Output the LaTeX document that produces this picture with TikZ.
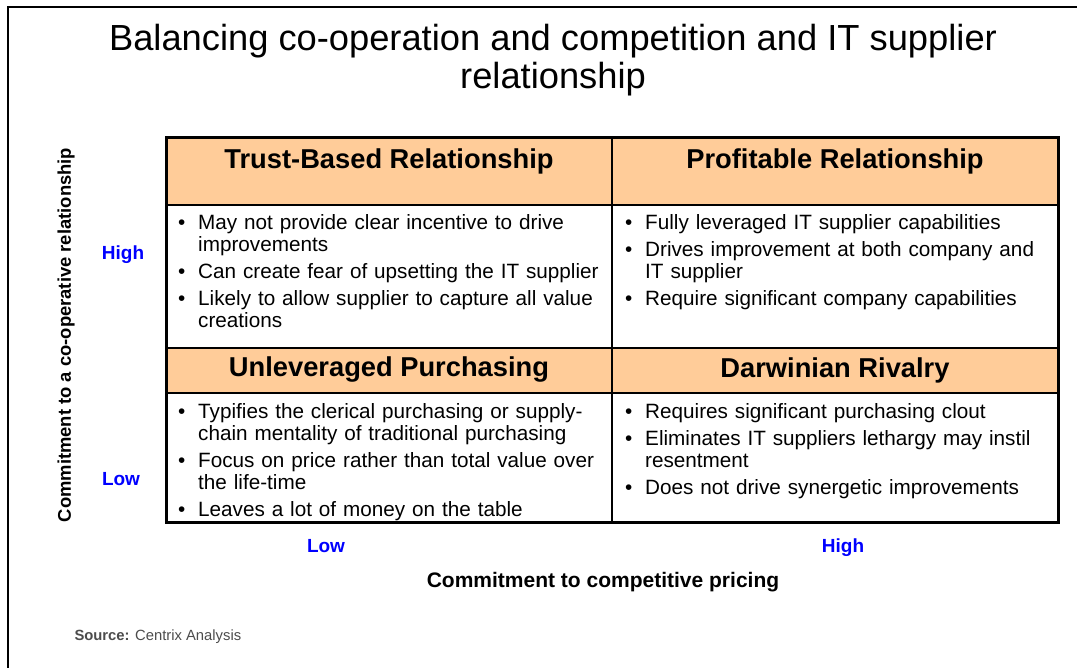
\documentclass[tikz,border=0pt]{standalone}
\usepackage{fontspec}
\setmainfont{Liberation Sans}
\usepackage{enumitem}
\definecolor{peach}{RGB}{255,204,153}
\definecolor{levelblue}{RGB}{0,0,255}
\tikzset{
  {title text/.style} ={align=center, font=\fontsize{36.3}{38}\selectfont},
  {head text/.style} ={font=\bfseries\fontsize{27.3}{30}\selectfont},
  {cell text/.style} ={anchor=north west, inner sep=0pt, text width=430pt,
                 align=left, font=\fontsize{20.7}{22}\selectfont},
  {level text/.style} ={anchor=base, font=\bfseries\fontsize{19}{20}\selectfont, levelblue},
  {axis text/.style} ={font=\bfseries\fontsize{21}{22}\selectfont},
  {side text/.style} ={font=\bfseries\fontsize{18.4}{20}\selectfont},
  {head fill/.style} ={fill=peach},
  {grid line/.style} ={line width=1.5pt},
  {outer line/.style} ={line width=3pt},
}
\newcommand{\cellitems}[1]{%
  \begin{itemize}[label=\textbullet, leftmargin=20pt, labelsep=12pt,
    labelwidth=8pt, align=left, itemsep=5pt, topsep=0pt, parsep=0pt,
    partopsep=0pt]#1\end{itemize}}

\begin{document}
\begin{tikzpicture}[x=1pt,y=-1pt]
\useasboundingbox (0,0) rectangle (1077,668);
\coordinate (fbl) at (8,668);
\coordinate (ftl) at (8,7);
\coordinate (ftr) at (1077,7);
\draw[line width=2pt] (fbl) -- (ftl) -- (ftr);

\node[title text] (title) at (553,60)
  {Balancing co-operation and competition and IT supplier\\relationship};

% grid
\coordinate (nw) at (166,138);
\coordinate (se) at (1058,522);
\coordinate (h1) at (1058,205);
\coordinate (r2) at (166,348);
\coordinate (h2) at (1058,393);
\fill[head fill] (nw) rectangle (h1);
\fill[head fill] (r2) rectangle (h2);
\draw[grid line] (166,205) -- (h1);
\draw[grid line] (r2) -- (1058,348);
\draw[grid line] (166,393) -- (h2);
\draw[grid line] (612,138) -- (612,522);
\draw[outer line] (nw) rectangle (se);

\node[head text] (trust) at (389,161) {Trust-Based Relationship};
\node[head text] (profit) at (835,161) {Profitable Relationship};
\node[head text] (unlev) at (389,370) {Unleveraged Purchasing};
\node[head text] (darwin) at (835,370) {Darwinian Rivalry};

\node[cell text] (trustlist) at (178,207) {\cellitems{
  \item May not provide clear incentive to drive\newline improvements
  \item Can create fear of upsetting the IT supplier
  \item Likely to allow supplier to capture all value\newline creations}};
\node[cell text] (profitlist) at (625,207) {\cellitems{
  \item Fully leveraged IT supplier capabilities
  \item Drives improvement at both company and\newline IT supplier
  \item Require significant company capabilities}};
\node[cell text] (unlevlist) at (178,396) {\cellitems{
  \item Typifies the clerical purchasing or supply-\newline chain mentality of traditional purchasing
  \item Focus on price rather than total value over\newline the life-time
  \item Leaves a lot of money on the table}};
\node[cell text] (darwinlist) at (625,396) {\cellitems{
  \item Requires significant purchasing clout
  \item Eliminates IT suppliers lethargy may instil\newline resentment
  \item Does not drive synergetic improvements}};

\node[level text] (yhigh) at (123,260) {High};
\node[level text] (ylow) at (121,485) {Low};
\node[level text] (xlow) at (326,552) {Low};
\node[level text] (xhigh) at (843,552) {High};

\node[side text, rotate=90] (yaxis) at (66,335) {Commitment to a co-operative relationship};
\node[axis text] (xaxis) at (603,582) {Commitment to competitive pricing};

\node[anchor=west, font=\fontsize{14.8}{16}\selectfont, black!70] (source) at (71,637)
  {\textbf{Source:} Centrix Analysis};
\end{tikzpicture}
\end{document}
